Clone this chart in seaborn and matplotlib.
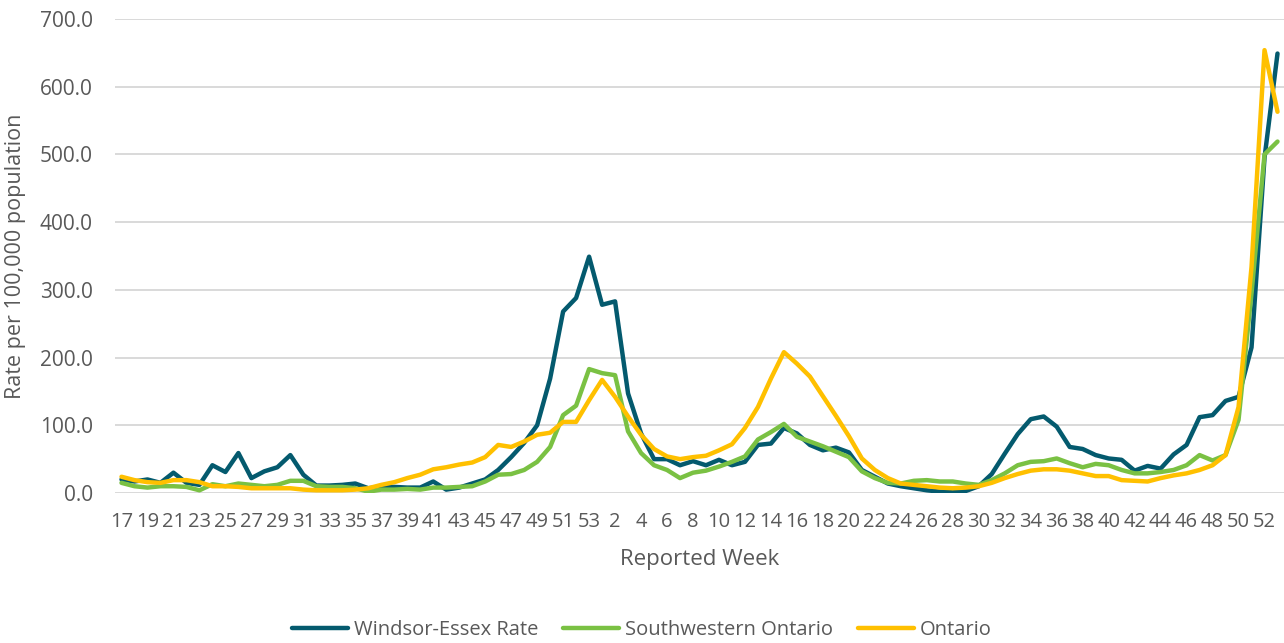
import matplotlib
matplotlib.use("Agg")
import matplotlib.pyplot as plt
import seaborn as sns
import pandas as pd
import numpy as np
from matplotlib.lines import Line2D

weeks = list(range(17, 54)) + list(range(1, 53)) + [1]

windsor = [20, 17, 20, 15, 30, 15, 12, 41, 31, 59, 22, 32, 38, 56, 27, 11, 11, 12, 14, 7,
           9, 9, 8, 8, 17, 5, 8, 14, 20, 34, 53, 74, 100, 169, 268, 288, 349, 278, 283, 147,
           88, 50, 50, 41, 47, 41, 49, 41, 46, 71, 73, 96, 88, 71, 63, 67, 60, 34, 24, 14,
           10, 7, 4, 2, 1, 3, 10, 28, 58, 87, 109, 113, 98, 68, 65, 56, 51, 49, 33, 40,
           36, 57, 71, 112, 115, 136, 142, 215, 495, 649]
southwestern = [15, 10, 8, 10, 10, 9, 4, 13, 10, 14, 12, 10, 12, 18, 18, 10, 9, 9, 7, 2,
                5, 5, 6, 5, 8, 8, 9, 10, 17, 27, 28, 34, 46, 68, 115, 129, 183, 177, 174, 91,
                59, 41, 34, 22, 30, 33, 39, 46, 54, 79, 90, 102, 83, 76, 69, 61, 53, 32, 22, 15,
                14, 18, 19, 17, 17, 14, 12, 19, 29, 41, 46, 47, 51, 44, 38, 43, 41, 34, 29, 29,
                31, 34, 41, 56, 48, 56, 108, 295, 500, 519]
ontario = [24, 19, 16, 15, 19, 19, 16, 10, 10, 9, 7, 7, 7, 7, 5, 4, 4, 4, 5, 7,
           12, 16, 22, 27, 35, 38, 42, 45, 53, 71, 68, 76, 86, 89, 105, 105, 137, 167, 142, 113,
           86, 65, 54, 50, 53, 55, 63, 72, 96, 127, 169, 208, 191, 172, 143, 114, 84, 51, 34, 22,
           14, 12, 10, 8, 7, 8, 10, 15, 22, 28, 33, 35, 35, 33, 29, 25, 25, 19, 18, 17,
           22, 26, 29, 34, 41, 56, 127, 334, 654, 563]

series_names = ["Windsor-Essex Rate", "Southwestern Ontario", "Ontario"]
colors = ["#045A6E", "#7AC143", "#FFC000"]

n = len(weeks)
df = pd.DataFrame({
    "idx": list(range(n)) * 3,
    "value": windsor + southwestern + ontario,
    "series": [series_names[0]] * n + [series_names[1]] * n + [series_names[2]] * n,
})

sns.set_theme(style="white")
plt.rcParams["font.family"] = ["Open Sans", "DejaVu Sans"]

fig = plt.figure(figsize=(12.84, 6.43), dpi=100)
ax = fig.add_axes([115 / 1284, (643 - 493) / 643, 1 - 115 / 1284, (493 - 19) / 643])

sns.lineplot(data=df, x="idx", y="value", hue="series", palette=colors,
             hue_order=series_names, linewidth=3.2, ax=ax, legend=False)

ax.set_xlim(-0.5, n - 0.5)
ax.set_ylim(0, 700)
ax.set_yticks(np.arange(0, 701, 100))
ax.set_yticklabels([f"{v:.1f}" for v in np.arange(0, 701, 100)])
ticks = list(range(0, n, 2))
ax.set_xticks(ticks)
ax.set_xticklabels([str(weeks[i]) for i in ticks])

ax.grid(axis="y", color="#D9D9D9", linewidth=1.4)
ax.grid(axis="x", visible=False)
ax.set_axisbelow(True)
for s in ax.spines.values():
    s.set_visible(False)
ax.tick_params(axis="y", length=0, labelsize=15, colors="#595959", pad=16)
ax.tick_params(axis="x", length=0, labelsize=14.5, colors="#595959", pad=14)

ax.set_xlabel("Reported Week", fontsize=16, color="#595959", labelpad=12)
ax.set_ylabel("Rate per 100,000 population", fontsize=15.5, color="#595959", labelpad=10)

handles = [Line2D([0], [0], color=c, linewidth=3.2) for c in colors]
fig.legend(handles, series_names, loc="center", bbox_to_anchor=(0.5, 1 - 630 / 643),
           ncol=3, frameon=False, fontsize=14.5, handlelength=2.8, columnspacing=1.2,
           handletextpad=0.3, labelcolor="#595959")

fig.savefig("out.png", dpi=100)
